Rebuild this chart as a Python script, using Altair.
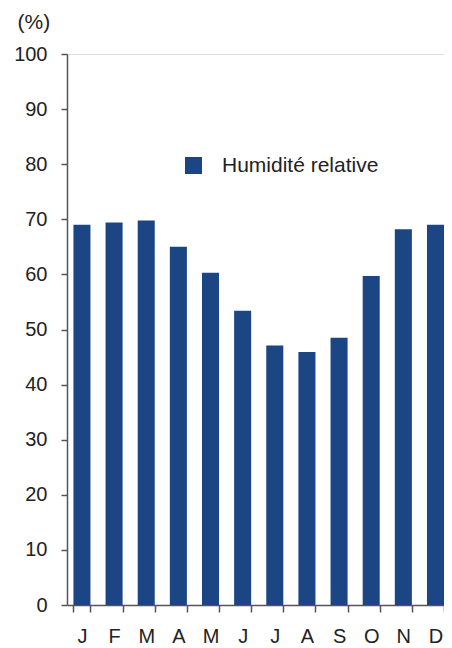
import altair as alt
import pandas as pd

months = ["J", "F", "M", "A", "M", "J", "J", "A", "S", "O", "N", "D"]
humidity = [69.0, 69.4, 69.8, 65.0, 60.3, 53.4, 47.1, 45.9, 48.5, 59.7, 68.2, 69.0]
series_name = "Humidité relative"

df = pd.DataFrame({
    "idx": list(range(12)),
    "month": months,
    "value": humidity,
    "series": [series_name] * 12,
})

label_expr = "[" + ",".join(f"'{m}'" for m in months) + "][datum.value]"

font = "Liberation Sans"

chart = alt.Chart(df).mark_bar(color="#1b4583").encode(
    x=alt.X(
        "idx:O",
        scale=alt.Scale(paddingInner=0.47, paddingOuter=0.1, align=1),
        axis=alt.Axis(
            title=None,
            labelExpr=label_expr,
            labelAngle=0,
            labelFont=font,
            labelFontSize=20,
            labelColor="#222222",
            labelPadding=14,
            tickBand="extent",
            tickSize=7,
            tickColor="#555555",
            domainColor="#555555",
            tickWidth=1.5,
            domainWidth=1.5,
        ),
    ),
    y=alt.Y(
        "value:Q",
        scale=alt.Scale(domain=[0, 100]),
        axis=alt.Axis(
            title="(%)",
            titleAngle=0,
            titleX=-50,
            titleY=-32,
            titleAlign="left",
            titleBaseline="middle",
            titleFont=font,
            titleFontSize=21,
            titleFontWeight="normal",
            titleColor="#222222",
            values=list(range(0, 101, 10)),
            labelFont=font,
            labelFontSize=20,
            labelColor="#222222",
            labelPadding=14,
            tickSize=6,
            tickColor="#555555",
            domainColor="#555555",
            tickWidth=1.5,
            domainWidth=1.5,
            grid=False,
        ),
    ),
    fill=alt.Fill(
        "series:N",
        scale=alt.Scale(range=["#1b4583"]),
        legend=alt.Legend(
            title=None,
            orient="none",
            legendX=116,
            legendY=101,
            symbolType="square",
            symbolSize=289,
            symbolStrokeWidth=0,
            labelFont=font,
            labelFontSize=21,
            labelColor="#222222",
            labelOffset=18,
        ),
    ),
).properties(
    width=377,
    height=551,
    autosize=alt.AutoSizeParams(type="none"),
    padding={"left": 59, "top": 46, "right": 0, "bottom": 44},
).configure_view(stroke=None).configure(background="white")

chart.save("out.html", embed_options={"renderer": "svg", "actions": False})
